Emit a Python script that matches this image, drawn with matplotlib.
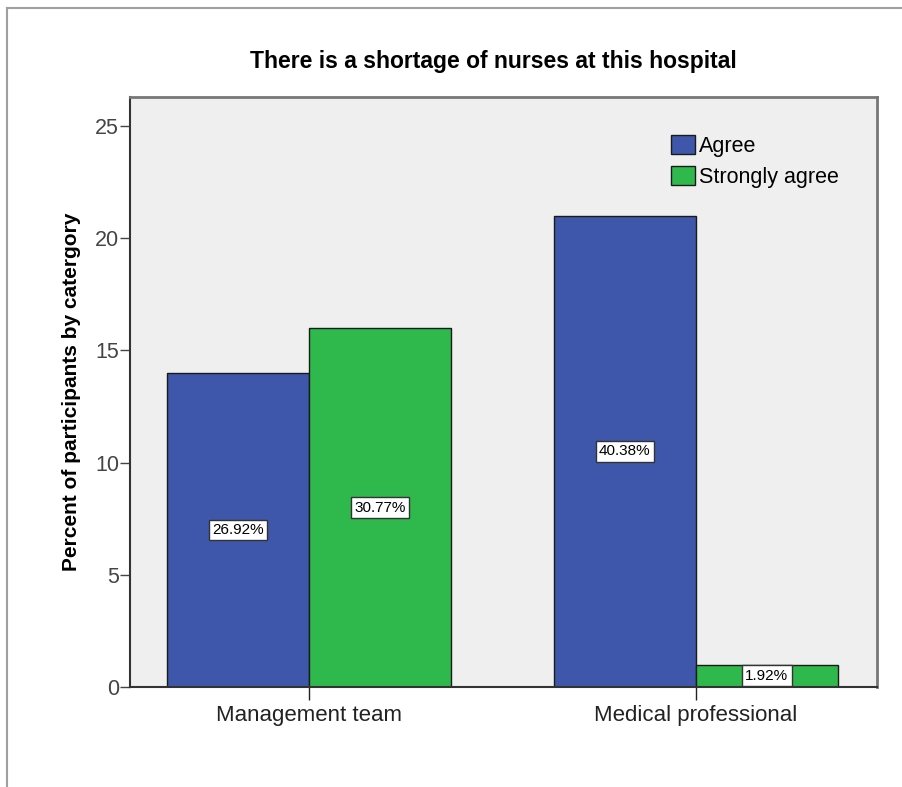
import numpy as np
import matplotlib
matplotlib.use("Agg")
import matplotlib.pyplot as plt
from matplotlib.lines import Line2D

plt.rcParams['font.family'] = ['Liberation Sans', 'DejaVu Sans']

categories = ['Management team', 'Medical professional']
series_names = ['Agree', 'Strongly agree']
agree = [14, 21]
strongly_agree = [16, 1]
agree_labels = ['26.92%', '40.38%']
strongly_labels = ['30.77%', '1.92%']
y_ticks = [0, 5, 10, 15, 20, 25]

colors = ['#3e57aa', '#2fb84b']

fig = plt.figure(figsize=(9.02, 7.87), dpi=100)
# outer frame (top and left grey border)
fig.lines.append(Line2D([7.5 / 902, 7.5 / 902], [0, 1 - 7.5 / 787], transform=fig.transFigure,
                        color='#a0a0a0', lw=1.5))
fig.lines.append(Line2D([7.5 / 902, 1], [1 - 7.5 / 787, 1 - 7.5 / 787], transform=fig.transFigure,
                        color='#a0a0a0', lw=1.5))

ax = fig.add_axes([130 / 902, 1 - 687 / 787, (877 - 130) / 902, (687 - 97) / 787])
ax.set_facecolor('#efefef')

x = np.arange(len(categories))
w = 0.367
b1 = ax.bar(x - w / 2, agree, w, color=colors[0], edgecolor='#1a1a1a', lw=1, label=series_names[0])
b2 = ax.bar(x + w / 2, strongly_agree, w, color=colors[1], edgecolor='#1a1a1a', lw=1, label=series_names[1])

box = dict(boxstyle='square,pad=0.22', fc='white', ec='#333333', lw=1)
for bars, labs in ((b1, agree_labels), (b2, strongly_labels)):
    for r, t in zip(bars, labs):
        ax.text(r.get_x() + r.get_width() / 2, r.get_height() / 2, t, ha='center', va='center',
                fontsize=11, color='black', bbox=box, zorder=5)

ax.set_xlim(-0.4625, 1.468)
ax.set_ylim(0, 26.3)
ax.set_yticks(y_ticks)
ax.set_yticklabels([str(v) for v in y_ticks], fontsize=15.5, color='#444444')
ax.set_xticks(x)
ax.set_xticklabels(categories, fontsize=16, color='#222222')
ax.tick_params(axis='y', length=7, width=1, color='#444444', pad=1)
ax.tick_params(axis='x', length=9, width=1, color='#222222', pad=4)

for s in ['left', 'bottom']:
    ax.spines[s].set_color('#333333')
    ax.spines[s].set_linewidth(1.5)
for s in ['top', 'right']:
    ax.spines[s].set_color('#777777')
    ax.spines[s].set_linewidth(2)

ax.set_ylabel('Percent of participants by catergory', fontsize=15, fontweight='bold', labelpad=10)
ax.set_title('There is a shortage of nurses at this hospital', fontsize=16.5, fontweight='bold',
             pad=21, x=0.486)

leg = ax.legend(loc='upper left', bbox_to_anchor=(0.713, 0.95), frameon=False, fontsize=15.5,
                handlelength=1.1, handleheight=1.0, handletextpad=0.2, labelspacing=0.42,
                borderaxespad=0)
for h in leg.legend_handles:
    h.set_edgecolor('#1a1a1a')

fig.savefig('out.png', dpi=100)
